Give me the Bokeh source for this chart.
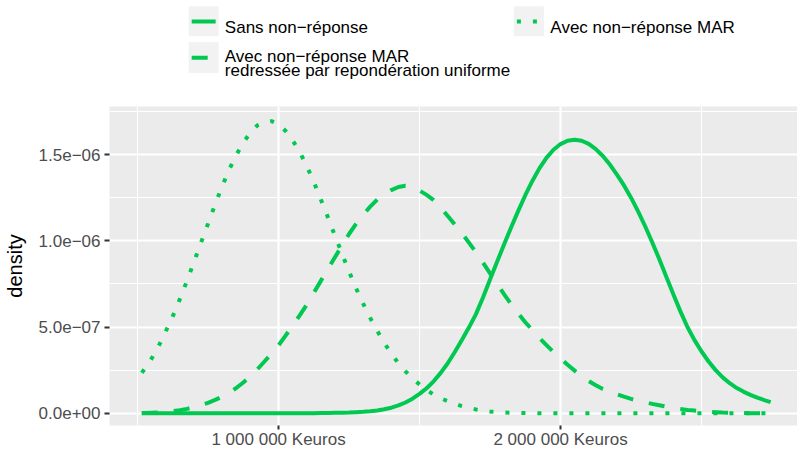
from bokeh.plotting import figure
from bokeh.layouts import column
from bokeh.models import Range1d, FixedTicker
from bokeh.core.properties import value
from bokeh.embed import file_html
from bokeh.resources import INLINE

# ---------------- data ----------------
x_keuros = [515000, 525000, 550000, 575000, 600000, 625000, 650000, 675000, 700000,
            725000, 750000, 775000, 800000, 825000, 850000, 875000, 900000, 925000,
            950000, 975000, 1000000, 1025000, 1050000, 1075000, 1100000, 1125000,
            1150000, 1175000, 1200000, 1225000, 1250000, 1275000, 1300000, 1325000,
            1350000, 1375000, 1400000, 1425000, 1450000, 1475000, 1500000, 1525000,
            1550000, 1575000, 1600000, 1625000, 1650000, 1675000, 1700000, 1725000,
            1750000, 1775000, 1800000, 1825000, 1850000, 1875000, 1900000, 1925000,
            1950000, 1975000, 2000000, 2025000, 2050000, 2075000, 2100000, 2125000,
            2150000, 2175000, 2200000, 2225000, 2250000, 2275000, 2300000, 2325000,
            2350000, 2375000, 2400000, 2425000, 2450000, 2475000, 2500000, 2525000,
            2550000, 2575000, 2600000, 2625000, 2650000, 2675000, 2700000, 2725000,
            2745000]

# densities, in units of 1e-6
sans_nr = [0.000, 0.000, 0.000, 0.000, 0.000, 0.000, 0.000, 0.000, 0.000,
           0.000, 0.000, 0.000, 0.000, 0.000, 0.000, 0.000, 0.000, 0.000,
           0.000, 0.000, 0.000, 0.000, 0.000, 0.000, 0.000, 0.000,
           0.001, 0.001, 0.002, 0.003, 0.004, 0.006, 0.008, 0.011,
           0.016, 0.023, 0.032, 0.045, 0.062, 0.084, 0.112, 0.145,
           0.185, 0.234, 0.290, 0.355, 0.425, 0.497, 0.575, 0.672,
           0.776, 0.879, 0.981, 1.079, 1.174, 1.265, 1.348, 1.421,
           1.482, 1.529, 1.562, 1.581, 1.587, 1.581, 1.563, 1.533,
           1.493, 1.443, 1.385, 1.322, 1.251, 1.171, 1.085, 0.992,
           0.895, 0.792, 0.690, 0.591, 0.500, 0.424, 0.358, 0.300,
           0.250, 0.208, 0.174, 0.146, 0.124, 0.105, 0.089, 0.075,
           0.064]

avec_mar = [0.235, 0.256, 0.318, 0.390, 0.475, 0.563, 0.662, 0.767, 0.877,
            0.990, 1.100, 1.212, 1.317, 1.414, 1.498, 1.571, 1.628, 1.671,
            1.688, 1.695, 1.676, 1.638, 1.583, 1.516, 1.434, 1.342,
            1.240, 1.137, 1.030, 0.926, 0.822, 0.725, 0.636, 0.553,
            0.478, 0.408, 0.345, 0.290, 0.243, 0.202, 0.167, 0.135,
            0.108, 0.087, 0.070, 0.054, 0.041, 0.031, 0.022, 0.015,
            0.010, 0.007, 0.004, 0.003, 0.002, 0.001, 0.001, 0.000,
            0.000, 0.000, 0.000, 0.000, 0.000, 0.000, 0.000, 0.000,
            0.000, 0.000, 0.000, 0.000, 0.000, 0.000, 0.000, 0.000,
            0.000, 0.000, 0.000, 0.000, 0.000, 0.000, 0.000, 0.000,
            0.000, 0.000, 0.000, 0.000, 0.000, 0.000, 0.000, 0.000,
            0.000]

avec_mar_redressee = [0.001, 0.001, 0.003, 0.005, 0.008, 0.012, 0.017, 0.025, 0.035,
                      0.047, 0.060, 0.077, 0.096, 0.119, 0.146, 0.178, 0.213, 0.255,
                      0.300, 0.346, 0.394, 0.450, 0.508, 0.568, 0.630, 0.698,
                      0.768, 0.837, 0.905, 0.973, 1.040, 1.099, 1.152, 1.199,
                      1.240, 1.272, 1.295, 1.313, 1.320, 1.312, 1.292, 1.267,
                      1.237, 1.193, 1.144, 1.095, 1.045, 0.990, 0.934, 0.874,
                      0.812, 0.750, 0.690, 0.632, 0.578, 0.528, 0.483, 0.437,
                      0.395, 0.355, 0.317, 0.281, 0.247, 0.215, 0.186, 0.162,
                      0.140, 0.124, 0.110, 0.096, 0.083, 0.072, 0.063, 0.054,
                      0.046, 0.038, 0.031, 0.025, 0.019, 0.015, 0.011, 0.008,
                      0.006, 0.004, 0.003, 0.002, 0.001, 0.000, 0.000, 0.000,
                      0.000]

x_ticks = [1000000, 2000000]
x_tick_labels = ["1 000 000 Keuros", "2 000 000 Keuros"]
x_minor_ticks = [500000, 1500000, 2500000]
y_ticks = [0.0, 0.5, 1.0, 1.5]
y_tick_labels = ["0.0e+00", "5.0e\u221207", "1.0e\u221206", "1.5e\u221206"]
y_minor_ticks = [0.25, 0.75, 1.25, 1.75]

legend_labels = ["Sans non\u2212r\u00e9ponse",
                 "Avec non\u2212r\u00e9ponse MAR",
                 "redress\u00e9e par repond\u00e9ration uniforme",
                 "Avec non\u2212r\u00e9ponse MAR"]

# ---------------- style ----------------
GREEN = "#00C850"
FONT = "Liberation Sans"
LW = 4
DASHED = "16 16"
DOTTED = "4 12"
W = 797
LEFT = 108

# ---------------- legend strip (above the panel) ----------------
# the strip's frame is aligned with the panel: it spans page x 108..797, y 0..106
leg = figure(width=W, height=106, x_range=Range1d(LEFT, W), y_range=Range1d(106, 0),
             x_axis_type=None, y_axis_type=None, toolbar_location=None,
             output_backend="svg", outline_line_color=None,
             background_fill_color="white", border_fill_color="white")
leg.min_border_left = LEFT
leg.min_border_right = 0
leg.min_border_top = 0
leg.min_border_bottom = 0

leg.quad(left=[187.3, 187.3, 513], right=[217.3, 217.3, 543],
         top=[5.7, 41.7, 5.7], bottom=[35.7, 72.5, 35.7],
         fill_color="#F2F2F2", line_color=None)
leg.line([190.3, 214.3], [21, 21], line_color=GREEN, line_width=LW)
leg.line([190.3, 214.3], [57.2, 57.2], line_color=GREEN, line_width=LW, line_dash=DASHED)
leg.line([516, 540], [21, 21], line_color=GREEN, line_width=LW, line_dash=DOTTED)
leg.text(x=[223.5, 223.5, 223.5, 549.5], y=[27, 55.6, 69.6, 27], text=legend_labels,
         text_font=value(FONT), text_font_size="17px", text_color="black",
         text_baseline="alphabetic", text_align="left")

# ---------------- main panel ----------------
# frame spans y 106..425 (the x-axis labels need 26 px); scale kept at the reference's
p = figure(width=W, height=345,
           x_range=Range1d(400500, 2840300), y_range=Range1d(-0.0714, 1.7800),
           toolbar_location=None, output_backend="svg",
           background_fill_color="#EBEBEB", border_fill_color="white",
           outline_line_color=None)
p.min_border_left = LEFT
p.min_border_right = 0
p.min_border_top = 0
p.min_border_bottom = 23

p.line(x_keuros, sans_nr, line_color=GREEN, line_width=LW)
p.line(x_keuros, avec_mar_redressee, line_color=GREEN, line_width=LW, line_dash=DASHED)
p.line(x_keuros, avec_mar, line_color=GREEN, line_width=LW, line_dash=DOTTED)

p.xaxis.ticker = FixedTicker(ticks=x_ticks, minor_ticks=x_minor_ticks)
p.xaxis.major_label_overrides = dict(zip(x_ticks, x_tick_labels))
p.yaxis.ticker = FixedTicker(ticks=y_ticks, minor_ticks=y_minor_ticks)
p.yaxis.major_label_overrides = dict(zip(y_ticks, y_tick_labels))

for g in (p.xgrid, p.ygrid):
    g.grid_line_color = "white"
    g.grid_line_width = 2.2
    g.minor_grid_line_color = "white"
    g.minor_grid_line_width = 1.1

p.axis.axis_line_color = None
p.axis.minor_tick_line_color = None
p.axis.major_tick_line_color = "#333333"
p.axis.major_tick_line_width = 2
p.axis.major_tick_in = 0
p.axis.major_label_text_font = FONT
p.axis.major_label_text_font_size = "17px"
p.axis.major_label_text_color = "#4D4D4D"
p.xaxis.major_tick_out = 4
p.xaxis.major_label_standoff = 0
p.yaxis.major_tick_out = 5
p.yaxis.major_label_standoff = 4

p.yaxis.axis_label = "density"
p.yaxis.axis_label_text_font = FONT
p.yaxis.axis_label_text_font_size = "20px"
p.yaxis.axis_label_text_font_style = "normal"
p.yaxis.axis_label_text_color = "black"
p.yaxis.axis_label_standoff = 10

layout = column(leg, p, spacing=0)
open("out.html", "w").write(file_html(layout, INLINE))
